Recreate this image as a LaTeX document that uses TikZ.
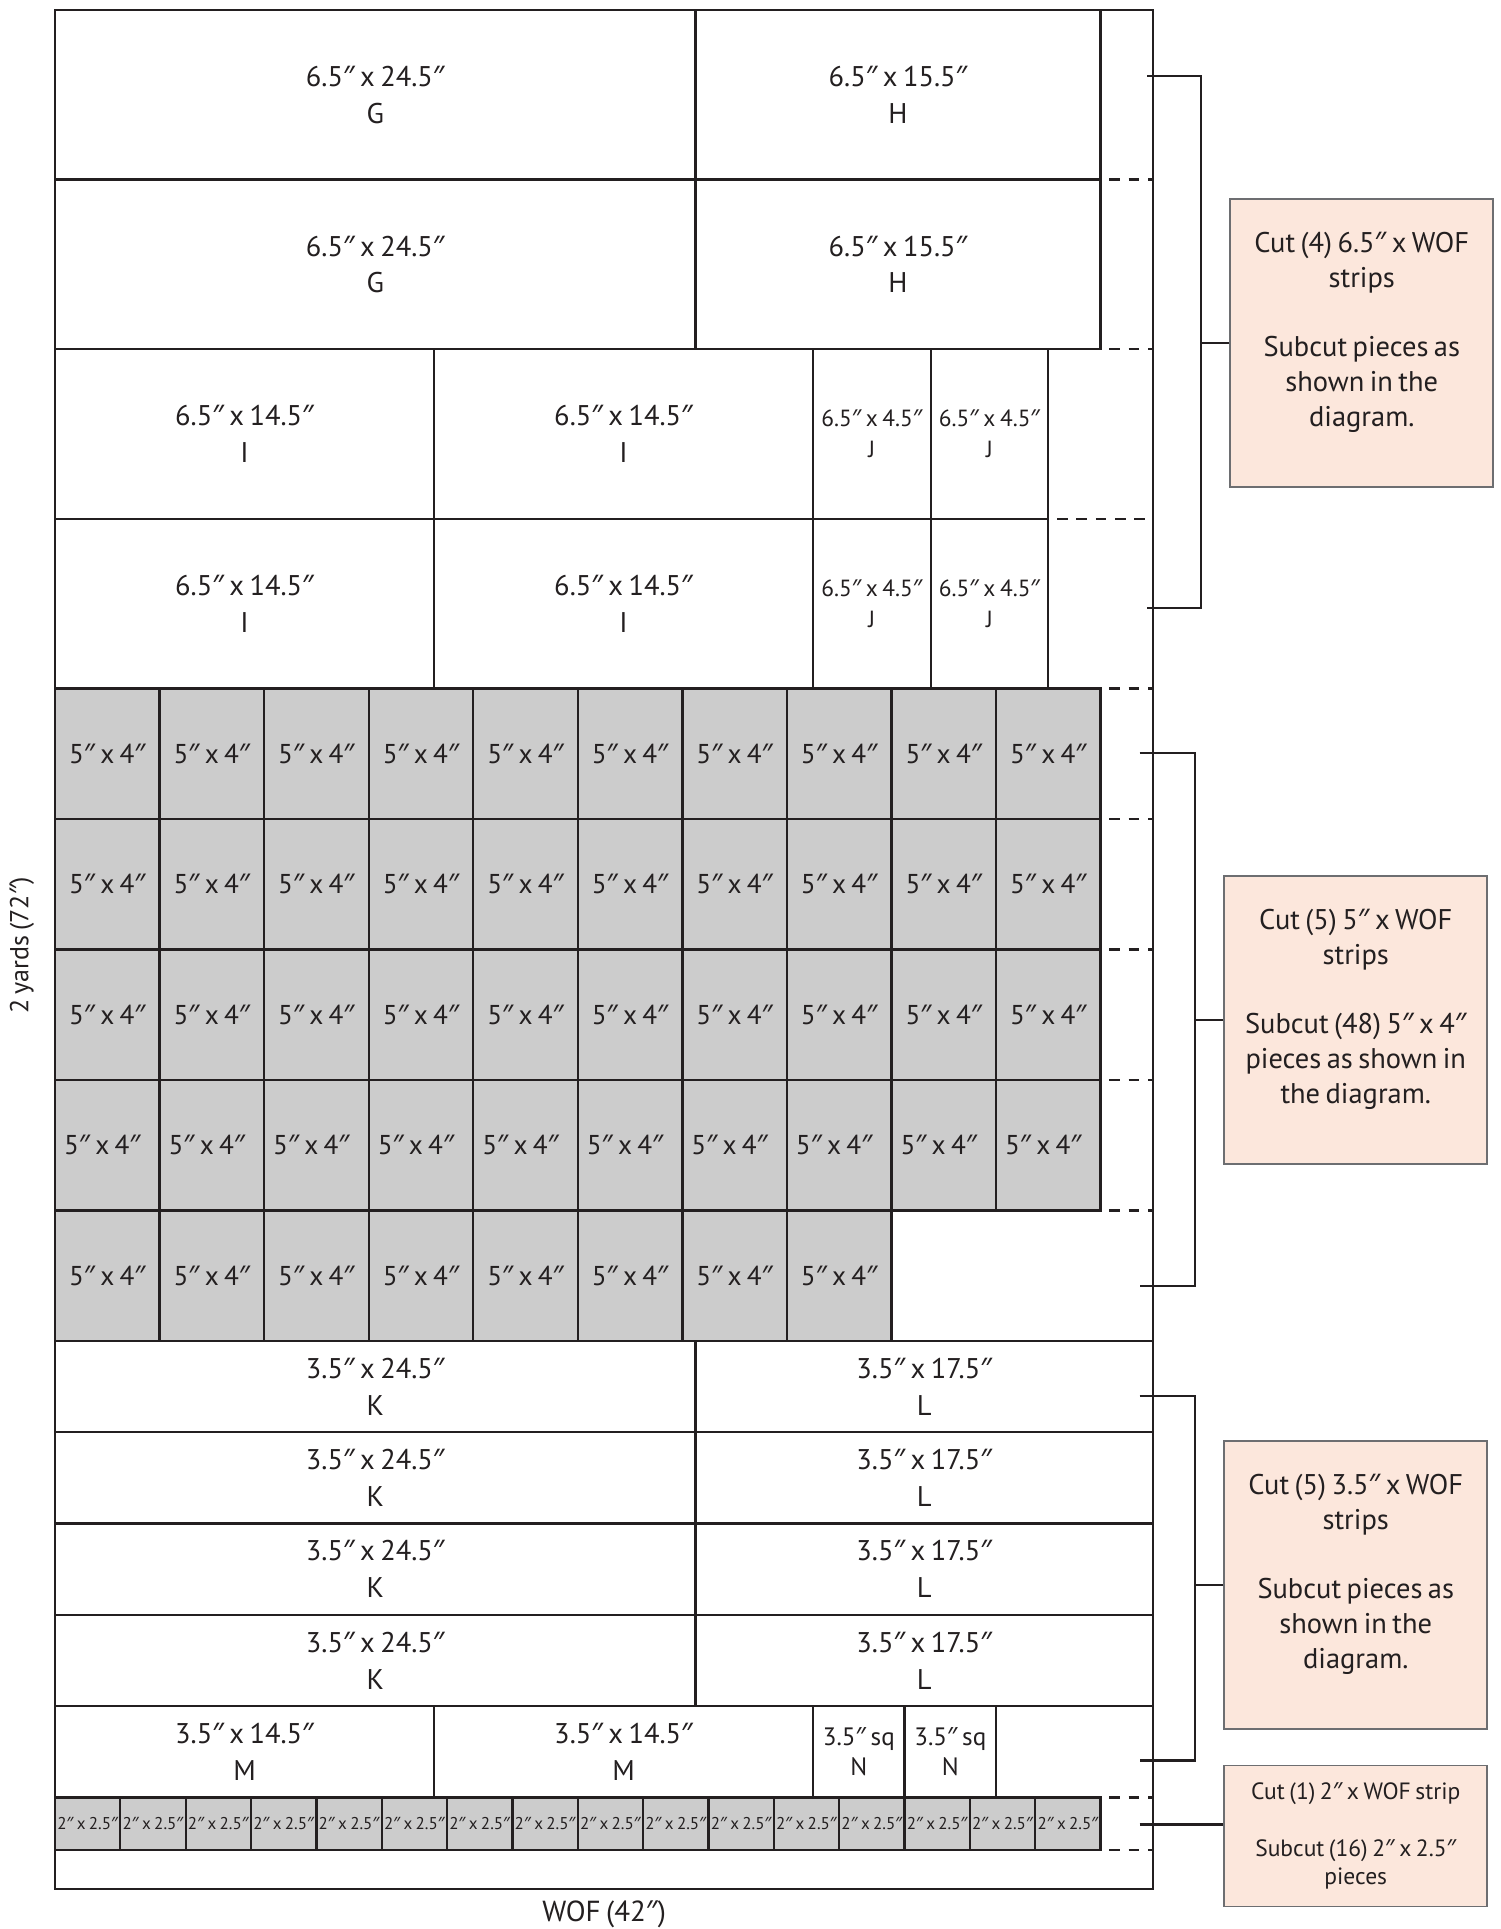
\documentclass[tikz,border=0pt]{standalone}
\usepackage{fontspec}
\setmainfont{PT Sans}[WordSpace={0.72}]
\newfontfamily\notof{Noto Sans}
\newcommand\ii{{\notof ″}}
\definecolor{ink}{HTML}{231F20}
\definecolor{gry}{HTML}{CCCCCC}
\definecolor{peach}{HTML}{FCE7DC}
\definecolor{boxline}{HTML}{6D6E71}
\tikzset{
  pc/.style={draw=ink, line width=1.3pt},
  gpc/.style={pc, fill=gry},
  big/.style={font=\fontsize{16.2}{20.9}\selectfont, align=center, text=ink, inner sep=0pt},
  grid/.style={font=\fontsize{15.5}{20}\selectfont, align=center, text=ink, inner sep=0pt},
  mid/.style={font=\fontsize{13.3}{17.5}\selectfont, align=center, text=ink, inner sep=0pt},
  nlbl/.style={font=\fontsize{14.3}{17}\selectfont, align=center, text=ink, inner sep=0pt},
  tiny/.style={font=\fontsize{9.7}{10}\selectfont, text=ink, inner sep=0pt},
  cutline/.style={draw=ink, line width=1.3pt, dash pattern=on 6pt off 5pt, dash phase=6pt},
  brk/.style={draw=ink, line width=1.3pt},
  note/.style={draw=boxline, fill=peach, line width=1pt, inner sep=0pt},
  notetxt/.style={font=\fontsize{16.2}{19.8}\selectfont, align=center, text=ink, inner sep=0pt},
  smalltxt/.style={font=\fontsize{13.4}{15.9}\selectfont, align=center, text=ink, inner sep=0pt},
}
\begin{document}
\begin{tikzpicture}[line join=miter]
\useasboundingbox (0,0) rectangle (30.02,-38.58);
\fill[white] (0,0) rectangle (30.02,-38.58);
\begin{scope}[shift={(1.1,-0.2)}, x=0.5228cm, y=-0.5219cm]
 % G / H rows
 \foreach \r/\n in {0/1,6.5/2}{
  \path[pc] (0,\r) rectangle (24.5,\r+6.5);
  \node[big] (G\n) at (12.25,\r+3.25) {6.5\ii{} x 24.5\ii\\G};
  \path[pc] (24.5,\r) rectangle (40,\r+6.5);
  \node[big] (H\n) at (32.25,\r+3.25) {6.5\ii{} x 15.5\ii\\H};
 }
 % I / J rows
 \foreach \r/\n in {13/1,19.5/2}{
  \path[pc] (0,\r) rectangle (14.5,\r+6.5);
  \node[big] (Ia\n) at (7.25,\r+3.25) {6.5\ii{} x 14.5\ii\\I};
  \path[pc] (14.5,\r) rectangle (29,\r+6.5);
  \node[big] (Ib\n) at (21.75,\r+3.25) {6.5\ii{} x 14.5\ii\\I};
  \path[pc] (29,\r) rectangle (33.5,\r+6.5);
  \node[mid] (Ja\n) at (31.25,\r+3.25) {6.5\ii{} x 4.5\ii\\J};
  \path[pc] (33.5,\r) rectangle (38,\r+6.5);
  \node[mid] (Jb\n) at (35.75,\r+3.25) {6.5\ii{} x 4.5\ii\\J};
 }
 % 5 x 4 grid
 \foreach \rr in {0,...,3}{
  \foreach \c in {0,...,9}{
   \path[gpc] (4*\c,26+5*\rr) rectangle (4*\c+4,31+5*\rr);
   \node[grid, xshift={-2.845*(\rr==3)}] (P\rr\c) at (4*\c+2,28.5+5*\rr) {5\ii{} x 4\ii};
  }
 }
 \foreach \c in {0,...,7}{
   \path[gpc] (4*\c,46) rectangle (4*\c+4,51);
   \node[grid] (P4\c) at (4*\c+2,48.5) {5\ii{} x 4\ii};
 }
 % K / L rows
 \foreach \r/\n in {51/1,54.5/2,58/3,61.5/4}{
  \path[pc] (0,\r) rectangle (24.5,\r+3.5);
  \node[big] (K\n) at (12.25,\r+1.75) {3.5\ii{} x 24.5\ii\\K};
  \path[pc] (24.5,\r) rectangle (42,\r+3.5);
  \node[big] (L\n) at (33.25,\r+1.75) {3.5\ii{} x 17.5\ii\\L};
 }
 % M / N row
 \path[pc] (0,65) rectangle (14.5,68.5);
 \node[big] (M1) at (7.25,66.75) {3.5\ii{} x 14.5\ii\\M};
 \path[pc] (14.5,65) rectangle (29,68.5);
 \node[big] (M2) at (21.75,66.75) {3.5\ii{} x 14.5\ii\\M};
 \path[pc] (29,65) rectangle (32.5,68.5);
 \node[nlbl] (N1) at (30.75,66.75) {3.5\ii{} sq\\N};
 \path[pc] (32.5,65) rectangle (36,68.5);
 \node[nlbl] (N2) at (34.25,66.75) {3.5\ii{} sq\\N};
 % 2 inch strip
 \foreach \c in {0,...,15}{
  \path[gpc] (2.5*\c,68.5) rectangle (2.5*\c+2.5,70.5);
  \node[tiny] (S\c) at (2.5*\c+1.25,69.5) {2\ii{} x 2.5\ii};
 }
 % fabric outline
 \draw[pc] (0,0) rectangle (42,72);
 % cut lines
 \foreach \y in {6.5,13,26,31,36,41,46,68.5,70.5}
  \draw[cutline] (40,\y) -- (42,\y);
 \draw[cutline] (38,19.5) -- (42,19.5);
\end{scope}

\begin{scope}[x=0.02cm, y=-0.02cm]
 % notes
 \node[note, minimum width=5.26cm, minimum height=5.76cm] (box1) at (1361.5,343) {};
 \node[notetxt, yshift=0.22cm] (t1) at (box1.center) {Cut (4) 6.5\ii{} x WOF\\strips\\[19.8pt]Subcut pieces as\\shown in the\\diagram.};
 \node[note, minimum width=5.26cm, minimum height=5.76cm] (box2) at (1355.5,1020) {};
 \node[notetxt, yshift=0.22cm] (t2) at (box2.center) {Cut (5) 5\ii{} x WOF\\strips\\[19.8pt]Subcut (48) 5\ii{} x 4\ii\\pieces as shown in\\the diagram.};
 \node[note, minimum width=5.26cm, minimum height=5.76cm] (box3) at (1355.5,1585) {};
 \node[notetxt, yshift=0.22cm] (t3) at (box3.center) {Cut (5) 3.5\ii{} x WOF\\strips\\[19.8pt]Subcut pieces as\\shown in the\\diagram.};
 \node[note, minimum width=5.26cm, minimum height=2.82cm] (box4) at (1355.5,1835.5) {};
 \node[smalltxt] (t4) at (box4.center) {Cut (1) 2\ii{} x WOF strip\\[17pt]Subcut (16) 2\ii{} x 2.5\ii\\pieces};
 % brackets
 \coordinate (b1a) at (1147,76);
 \coordinate (b1b) at (1147,608);
 \draw[brk] (b1a) -- ++(54,0) |- (b1b);
 \draw[brk] (box1.west) -- ++(-29,0);
 \coordinate (b2a) at (1139.5,752.7);
 \coordinate (b2b) at (1139.5,1285.5);
 \draw[brk] (b2a) -- ++(55,0) |- (b2b);
 \draw[brk] (box2.west) -- ++(-29.5,0);
 \coordinate (b3a) at (1139.5,1395.4);
 \coordinate (b3b) at (1139.5,1760);
 \draw[brk] (b3a) -- ++(55,0) |- (b3b);
 \draw[brk] (box3.west) -- ++(-29.5,0);
 \coordinate (b4a) at (1139.5,1824);
 \draw[brk] (b4a) -- (b4a -| box4.west);
 % axis labels
 \node[font=\fontsize{14.8}{16}\selectfont, text=ink, rotate=90, inner sep=0pt] (yards) at (22,945) {2 yards (72\ii)};
 \node[font=\fontsize{16.5}{18}\selectfont, text=ink, inner sep=0pt] (wof) at (604,1914) {WOF (42\ii)};
\end{scope}
\end{tikzpicture}
\end{document}
